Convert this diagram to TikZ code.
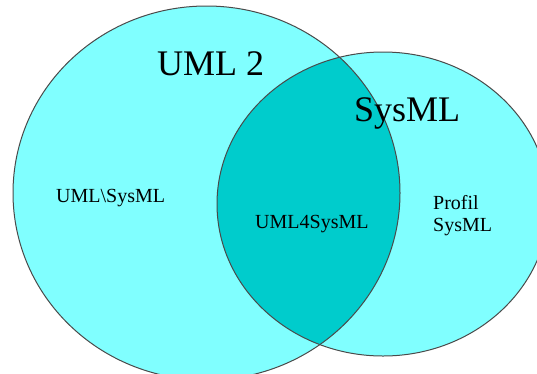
\documentclass[tikz,border=0pt]{standalone}
\usepackage{fontspec}
\setmainfont{Liberation Serif}
\definecolor{setfill}{HTML}{80FFFF}
\definecolor{lensfill}{HTML}{00CCCC}
\definecolor{rim}{HTML}{4A4A4A}
\begin{document}
\begin{tikzpicture}[x=1pt,y=-1pt,
  rimline/.style={draw=rim,line width=1pt},
  bigtext/.style={anchor=base west,inner sep=0pt,font=\fontsize{36}{40}\selectfont},
  smalltext/.style={anchor=base west,inner sep=0pt,font=\fontsize{20}{22}\selectfont,align=left}]
  \useasboundingbox (0,0) rectangle (537,373);
  % UML 2 and SysML as two overlapping ellipses
  \def\umlset{(206.5,193) ellipse [x radius=193.5, y radius=187]}
  \def\sysset{(383,204) ellipse [x radius=166, y radius=152]}
  \begin{scope}
    \clip (0,0) rectangle (537,373);
    \fill[setfill] \umlset;
    \fill[setfill] \sysset;
    \begin{scope}
      \clip \umlset;
      \fill[lensfill] \sysset;
    \end{scope}
    \path[rimline] \umlset;
    \path[rimline] \sysset;
  \end{scope}
  % labels
  \node[bigtext] (uml) at (157,75) {UML 2};
  \node[bigtext] (sysml) at (354,121) {SysML};
  \node[smalltext] (diff) at (56,202) {UML\textbackslash SysML};
  \node[smalltext] (common) at (255,228) {UML4SysML};
  \node[smalltext,anchor=north west] (profile) at (433,195) {Profil\\SysML};
\end{tikzpicture}
\end{document}
